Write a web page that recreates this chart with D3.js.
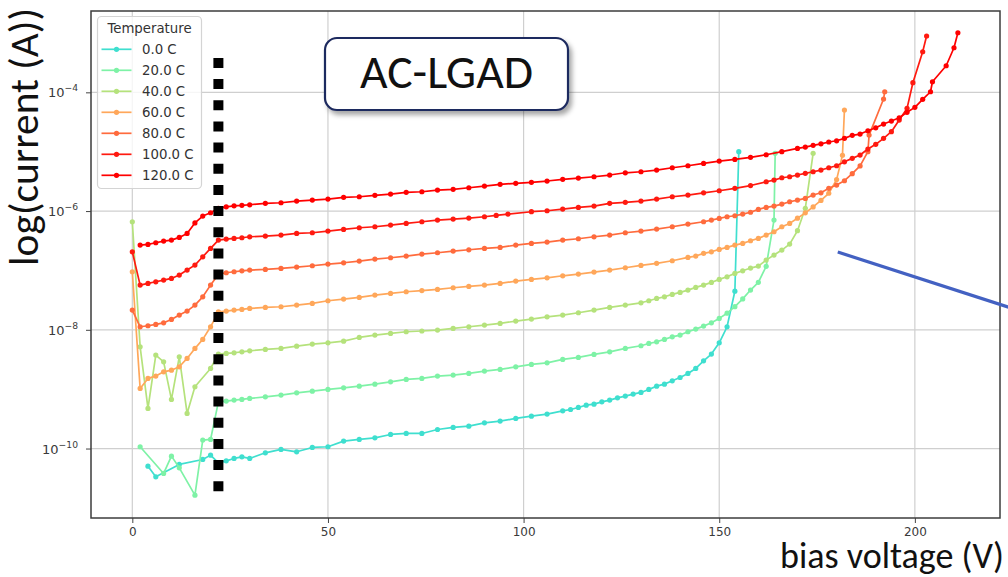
<!DOCTYPE html>
<html><head><meta charset="utf-8">
<script src="https://cdn.jsdelivr.net/npm/d3@7/dist/d3.min.js"></script>
<style>body{margin:0;background:#fff;overflow:hidden}svg{display:block}</style>
</head><body>
<svg id="chart" width="1008" height="577"></svg>
<script>
// ---- data: [bias voltage (V), log10(current / A)] ----
const temperatures = ["0.0 C","20.0 C","40.0 C","60.0 C","80.0 C","100.0 C","120.0 C"];
const seriesColors = ["#3fdfcf","#7ef2a6","#b5e27c","#ffa75a","#ff6b3d","#ff1a10","#ff0000"];

const t0 = [[4,-10.297],[6,-10.476],[12,-10.268],[18,-10.184],[20,-10.111],[22,-10.241],[24,-10.207],[26,-10.167],[28,-10.140],[30,-10.167],[34,-10.072],[38,-10.015],[42,-10.055],[46,-9.982],[50,-9.970],[54,-9.875],[58,-9.847],[62,-9.819],[66,-9.763],[70,-9.746],[74,-9.746],[78,-9.679],[82,-9.645],[86,-9.623],[90,-9.567],[94,-9.538],[98,-9.493],[102,-9.454],[106,-9.420],[110,-9.365],[112,-9.342],[114,-9.308],[116,-9.269],[118,-9.252],[120,-9.213],[122,-9.184],[124,-9.146],[126,-9.117],[128,-9.083],[130,-9.055],[132,-9.005],[134,-8.949],[136,-8.915],[138,-8.859],[140,-8.803],[142,-8.735],[144,-8.651],[146,-8.522],[148,-8.409],[150,-8.219],[152,-7.949],[154,-7.35],[155,-5.0]];

const t20 = [[2,-9.970],[8,-10.420],[10,-10.128],[12,-10.325],[16,-10.785],[18,-9.858],[20,-9.847],[22,-9.213],[24,-9.201],[26,-9.184],[28,-9.173],[30,-9.156],[34,-9.129],[38,-9.100],[42,-9.061],[46,-9.033],[50,-9.005],[54,-8.977],[58,-8.949],[62,-8.915],[66,-8.876],[70,-8.836],[74,-8.819],[78,-8.780],[82,-8.763],[86,-8.735],[90,-8.696],[94,-8.668],[98,-8.623],[102,-8.583],[106,-8.556],[110,-8.499],[114,-8.465],[118,-8.415],[122,-8.371],[126,-8.314],[130,-8.269],[132,-8.230],[134,-8.202],[136,-8.162],[138,-8.118],[140,-8.089],[142,-8.033],[144,-7.988],[146,-7.938],[148,-7.882],[150,-7.808],[152,-7.72],[154,-7.61],[156,-7.48],[158,-7.33],[160,-7.20],[162,-6.93],[164,-6.152],[164.3,-5.028]];

const t40 = [[0,-6.180],[2,-8.286],[4,-9.325],[6,-8.426],[8,-8.539],[10,-9.173],[12,-8.455],[14,-9.409],[16,-8.960],[20,-8.651],[22,-8.409],[24,-8.398],[26,-8.387],[28,-8.371],[30,-8.354],[34,-8.331],[38,-8.314],[42,-8.275],[46,-8.241],[50,-8.219],[54,-8.191],[58,-8.129],[62,-8.089],[66,-8.061],[70,-8.033],[74,-8.02],[78,-8.005],[82,-7.977],[86,-7.949],[90,-7.921],[94,-7.893],[98,-7.853],[102,-7.820],[106,-7.781],[110,-7.752],[114,-7.713],[118,-7.668],[122,-7.623],[126,-7.584],[130,-7.545],[132,-7.511],[134,-7.472],[136,-7.444],[138,-7.404],[140,-7.370],[142,-7.331],[144,-7.286],[146,-7.247],[148,-7.202],[150,-7.151],[152,-7.107],[154,-7.050],[156,-7.006],[158,-6.96],[160,-6.927],[162,-6.826],[164,-6.741],[166,-6.657],[168,-6.556],[170,-6.331],[172,-5.954],[174,-5.028]];

const t60 = [[0,-7.022],[2,-8.988],[4,-8.819],[6,-8.780],[8,-8.708],[10,-8.680],[12,-8.623],[14,-8.482],[16,-8.314],[18,-8.162],[20,-7.949],[22,-7.697],[24,-7.685],[26,-7.668],[28,-7.657],[30,-7.640],[34,-7.623],[38,-7.612],[42,-7.584],[46,-7.556],[50,-7.511],[54,-7.483],[58,-7.455],[62,-7.415],[66,-7.387],[70,-7.359],[74,-7.34],[78,-7.320],[82,-7.292],[86,-7.269],[90,-7.247],[94,-7.219],[98,-7.180],[102,-7.151],[106,-7.124],[110,-7.090],[114,-7.062],[118,-7.028],[122,-6.994],[126,-6.955],[130,-6.915],[134,-6.881],[138,-6.837],[142,-6.780],[144,-6.758],[146,-6.713],[148,-6.686],[150,-6.646],[152,-6.612],[154,-6.573],[156,-6.545],[158,-6.50],[160,-6.461],[162,-6.404],[164,-6.348],[166,-6.264],[168,-6.208],[170,-6.12],[172,-6.03],[174,-5.93],[176,-5.82],[178,-5.70],[180,-5.47],[181.5,-5.06],[182,-4.298]];

const t80 = [[0,-7.668],[2,-7.949],[4,-7.932],[6,-7.909],[8,-7.882],[10,-7.825],[12,-7.752],[14,-7.685],[16,-7.584],[18,-7.444],[20,-7.247],[22,-7.067],[24,-7.039],[26,-7.022],[28,-7.006],[30,-6.994],[34,-6.983],[38,-6.966],[42,-6.944],[46,-6.921],[50,-6.893],[54,-6.871],[58,-6.842],[62,-6.809],[66,-6.786],[70,-6.758],[74,-6.725],[78,-6.702],[82,-6.674],[86,-6.652],[90,-6.629],[94,-6.612],[98,-6.573],[102,-6.545],[106,-6.522],[110,-6.489],[114,-6.466],[118,-6.433],[122,-6.404],[126,-6.365],[130,-6.337],[134,-6.303],[138,-6.264],[142,-6.219],[146,-6.180],[148,-6.152],[150,-6.124],[152,-6.096],[154,-6.079],[156,-6.051],[158,-6.02],[160,-5.972],[162,-5.938],[164,-5.916],[166,-5.882],[168,-5.843],[170,-5.815],[172,-5.787],[174,-5.730],[176,-5.692],[178,-5.617],[180,-5.562],[182,-5.489],[184,-5.37],[186,-5.24],[188,-5.0],[188.3,-4.72],[192,-4.113],[192.3,-3.990]];

const t100 = [[0,-6.686],[2,-7.247],[4,-7.219],[6,-7.191],[8,-7.163],[10,-7.135],[12,-7.078],[14,-6.994],[16,-6.910],[18,-6.770],[20,-6.629],[22,-6.489],[24,-6.472],[26,-6.460],[28,-6.449],[30,-6.433],[34,-6.421],[38,-6.404],[42,-6.376],[46,-6.365],[50,-6.337],[54,-6.309],[58,-6.281],[62,-6.264],[66,-6.236],[70,-6.208],[74,-6.180],[78,-6.152],[82,-6.135],[86,-6.118],[90,-6.096],[93,-6.073],[96,-6.051],[102,-6.011],[106,-5.995],[110,-5.966],[114,-5.938],[118,-5.916],[122,-5.870],[126,-5.853],[130,-5.832],[134,-5.798],[138,-5.759],[142,-5.730],[146,-5.692],[150,-5.658],[154,-5.617],[158,-5.570],[162,-5.506],[164,-5.478],[166,-5.439],[168,-5.422],[170,-5.393],[172,-5.365],[174,-5.338],[176,-5.309],[178,-5.270],[180,-5.237],[182,-5.170],[184,-5.112],[186,-5.056],[188,-4.955],[190,-4.876],[192,-4.775],[194,-4.663],[196,-4.467],[198,-4.27],[199.5,-3.838],[202,-3.316],[203,-3.051]];

const t120 = [[2,-6.573],[4,-6.562],[6,-6.534],[8,-6.505],[10,-6.489],[12,-6.444],[14,-6.376],[16,-6.20],[18,-6.084],[20,-6.028],[22,-5.954],[24,-5.928],[26,-5.911],[28,-5.904],[30,-5.894],[34,-5.870],[38,-5.860],[42,-5.832],[46,-5.815],[50,-5.798],[54,-5.769],[58,-5.759],[62,-5.735],[66,-5.713],[70,-5.685],[74,-5.675],[78,-5.646],[82,-5.634],[86,-5.607],[90,-5.579],[94,-5.550],[98,-5.533],[102,-5.516],[106,-5.494],[110,-5.466],[114,-5.444],[118,-5.422],[122,-5.393],[126,-5.355],[130,-5.338],[134,-5.309],[138,-5.270],[142,-5.237],[146,-5.197],[150,-5.158],[154,-5.130],[158,-5.095],[162,-5.051],[166,-5.0],[170,-4.944],[172,-4.922],[174,-4.893],[176,-4.867],[178,-4.837],[180,-4.816],[182,-4.775],[184,-4.724],[186,-4.703],[188,-4.647],[190,-4.597],[192,-4.534],[194,-4.484],[196,-4.428],[198,-4.337],[200,-4.253],[202,-4.118],[204,-3.990],[204.5,-3.822],[208,-3.552],[210,-3.249],[211,-2.996]];

const allSeries = [t0, t20, t40, t60, t80, t100, t120];

const xTickValues = [0, 50, 100, 150, 200];
const yTickExponents = [-4, -6, -8, -10];
const xDomain = [-10.56, 221.76];
const yDomainLog = [-11.17, -2.63];

// annotations (data coordinates)
const markerVoltage = 22;                 // dotted black line
const markerLogRange = [-3.42, -10.72];
const arrowStart = [180.3, -6.69];         // blue line
const arrowEnd = [224.0, -7.62];

// ---- layout ----
const W = 1008, H = 577;
const plot = {left: 91, right: 1000, top: 11, bottom: 518};
const svg = d3.select("#chart");

const x = d3.scaleLinear().domain(xDomain).range([plot.left, plot.right]);
const y = d3.scaleLog().domain(yDomainLog.map(v => Math.pow(10, v))).range([plot.bottom, plot.top]);
const yl = v => y(Math.pow(10, v));

const defs = svg.append("defs");
const f = defs.append("filter").attr("id","shadow").attr("x","-20%").attr("y","-30%").attr("width","140%").attr("height","170%");
f.append("feDropShadow").attr("dx",3).attr("dy",4).attr("stdDeviation",2.5).attr("flood-color","#000").attr("flood-opacity",0.35);

// grid
const grid = svg.append("g");
grid.selectAll(".gx").data(xTickValues).join("line")
  .attr("x1", d => x(d)).attr("x2", d => x(d))
  .attr("y1", plot.top).attr("y2", plot.bottom)
  .attr("stroke", "#cfcfcf").attr("stroke-width", 1.2);
grid.selectAll(".gy").data(yTickExponents).join("line")
  .attr("x1", plot.left).attr("x2", plot.right)
  .attr("y1", d => yl(d)).attr("y2", d => yl(d))
  .attr("stroke", "#cfcfcf").attr("stroke-width", 1.2);

// axes
const xAxis = d3.axisBottom(x).tickValues(xTickValues).tickSize(5).tickPadding(4).tickFormat(d3.format("d"));
const gx = svg.append("g").attr("transform", `translate(0,${plot.bottom})`).call(xAxis);
gx.select(".domain").remove();
gx.selectAll("line").attr("stroke", "#444");
gx.selectAll("text").attr("font-family", "DejaVu Sans").attr("font-size", 12).attr("fill", "#3a3a3a");

const yAxis = d3.axisLeft(y).tickValues(yTickExponents.map(e => Math.pow(10, e))).tickSize(5).tickFormat("");
const gy = svg.append("g").attr("transform", `translate(${plot.left},0)`).call(yAxis);
gy.select(".domain").remove();
gy.selectAll("line").attr("stroke", "#444");
const ylab = svg.append("g").selectAll("text").data(yTickExponents).join("text")
  .attr("x", plot.left - 13).attr("y", d => yl(d) + 5)
  .attr("text-anchor", "end").attr("font-family", "DejaVu Sans").attr("fill", "#3a3a3a").attr("font-size", 13);
ylab.append("tspan").text("10");
ylab.append("tspan").attr("font-size", 9.2).attr("dy", -6).text(d => "\u2212" + Math.abs(d));

// series
const line = d3.line().x(d => x(d[0])).y(d => yl(d[1]));
const series = svg.append("g");
allSeries.forEach((s, i) => {
  const g = series.append("g");
  g.append("path").datum(s).attr("d", line).attr("fill", "none")
    .attr("stroke", seriesColors[i]).attr("stroke-width", 1.7).attr("stroke-linejoin", "round");
  g.selectAll("circle").data(s).join("circle")
    .attr("cx", d => x(d[0])).attr("cy", d => yl(d[1])).attr("r", 2.6).attr("fill", seriesColors[i]);
});

// frame
svg.append("rect").attr("x", plot.left).attr("y", plot.top)
  .attr("width", plot.right - plot.left).attr("height", plot.bottom - plot.top)
  .attr("fill", "none").attr("stroke", "#3c3c3c").attr("stroke-width", 1.5);

// dotted black marker line
const my1 = yl(markerLogRange[0]), my2 = yl(markerLogRange[1]);
const nSq = 21, sq = 10;
const period = ((my2 - my1) - sq) / (nSq - 1);
svg.append("line").attr("x1", x(markerVoltage)).attr("x2", x(markerVoltage))
  .attr("y1", my1).attr("y2", my2)
  .attr("stroke", "#000").attr("stroke-width", 10)
  .attr("stroke-dasharray", `${sq},${period - sq}`);

// legend
const lg = svg.append("g");
lg.append("rect").attr("x", 97.5).attr("y", 16.5).attr("width", 104).attr("height", 172).attr("rx", 4)
  .attr("fill", "#fff").attr("fill-opacity", 0.8).attr("stroke", "#d4d4d4").attr("stroke-width", 1.2);
lg.append("text").attr("x", 149.5).attr("y", 33).attr("text-anchor", "middle")
  .attr("font-family", "DejaVu Sans").attr("font-size", 13.3).attr("fill", "#333").text("Temperature");
temperatures.forEach((t, i) => {
  const cy = 49.3 + 21 * i;
  lg.append("line").attr("x1", 101.5).attr("x2", 131.5).attr("y1", cy).attr("y2", cy)
    .attr("stroke", seriesColors[i]).attr("stroke-width", 1.7);
  lg.append("circle").attr("cx", 116.5).attr("cy", cy).attr("r", 2.6).attr("fill", seriesColors[i]);
  lg.append("text").attr("x", 142).attr("y", cy + 4.8).attr("font-family", "DejaVu Sans")
    .attr("font-size", 13.3).attr("fill", "#333").text(t);
});

// AC-LGAD box
svg.append("rect").attr("x", 325).attr("y", 38).attr("width", 243).attr("height", 72).attr("rx", 12)
  .attr("fill", "#fff").attr("stroke", "#1f2b5e").attr("stroke-width", 2.2).attr("filter", "url(#shadow)");
function fitText(sel, target) {
  const fs = parseFloat(sel.attr("font-size"));
  const w = sel.node().getComputedTextLength();
  if (w > 0) sel.attr("font-size", fs * target / w);
}
const ac = svg.append("text").attr("x", 446.5).attr("y", 87.5).attr("text-anchor", "middle")
  .attr("font-family", "Carlito, Calibri, Lato, 'Open Sans', sans-serif").attr("font-size", 38).attr("fill", "#111").text("AC-LGAD");
fitText(ac, 173);

// blue annotation line
svg.append("line").attr("x1", x(arrowStart[0])).attr("y1", yl(arrowStart[1]))
  .attr("x2", x(arrowEnd[0])).attr("y2", yl(arrowEnd[1]))
  .attr("stroke", "#4361c2").attr("stroke-width", 3.2);

// axis titles
const xt = svg.append("text").attr("x", 780).attr("y", 568)
  .attr("font-family", "Carlito, Calibri, Lato, 'Open Sans', sans-serif").attr("font-size", 32).attr("fill", "#111").text("bias voltage (V)");
fitText(xt, 224);
const ytl = svg.append("text").attr("transform", "translate(38,137) rotate(-90)").attr("text-anchor", "middle")
  .attr("font-family", "Carlito, Calibri, Lato, 'Open Sans', sans-serif").attr("font-size", 38).attr("fill", "#111").text("log(current (A))");
fitText(ytl, 258);
</script>
</body></html>
